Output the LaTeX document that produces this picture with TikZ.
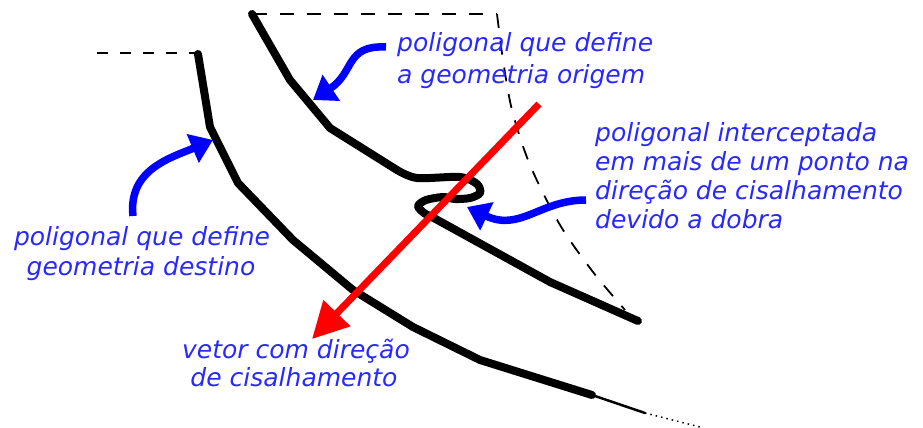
\documentclass[tikz,border=0pt]{standalone}
\usepackage{fontspec}
\setmainfont{DejaVu Sans}
\usetikzlibrary{arrows.meta}
\definecolor{lblue}{RGB}{40,40,255}
\definecolor{arrblue}{RGB}{0,0,255}
\definecolor{vred}{RGB}{255,0,0}
\begin{document}
\begin{tikzpicture}[x=1pt,y=-1pt,
  lbl/.style={font=\fontsize{25}{30}\selectfont\itshape, text=lblue, inner sep=0pt},
  poly/.style={line width=8pt, line join=round, line cap=round},
  guide/.style={line width=1.8pt, dash pattern=on 14pt off 13pt},
  callout/.style={draw=arrblue, line width=7.5pt, -{Triangle[length=22pt,width=30pt]}},
  vecarrow/.style={draw=vred, line width=7pt, -{Triangle[length=36pt,width=36pt]}}
]
\useasboundingbox (0,0) rectangle (923,428);

% guide (dashed) lines
\draw[guide] (253,14) -- (497,14);
\draw[guide] plot[smooth] coordinates {(497,14) (503,60) (512,110) (530,165) (560,225) (593,272) (625,310)};
\draw[line width=1.8pt, dash pattern=on 11pt off 12pt] (97,53) -- (198,53);

% source polygon (origem)
\draw[poly] (252,14) -- (290,80) -- (330,128) -- (397,170)
  plot[smooth] coordinates {(397,170) (417,178) (460,177) (477,184) (480,193) (470,198) (455,199) (443,197) (426,200) (418,206) (424,213) (432,217)}
  -- (550,282) -- (638,321);

% target polygon (destino)
\draw[poly] (198,54) -- (210,127) -- (238,183) -- (293,240) -- (353,290) -- (413,327) -- (480,360) -- (592,395);
\draw[line width=2.5pt, line cap=round] (592,395) -- (645,413);
\draw[line width=1.5pt, dash pattern=on 1.5pt off 4pt] (645,413) -- (700,427);

% red vector
\coordinate (vs) at (539,104);
\coordinate (vt) at (312,339);
\draw[vecarrow] (vs) -- (vt);

% labels
\node[lbl, anchor=base west] (o1) at (397,52) {poligonal que define};
\node[lbl, anchor=base west] (o2) at (397,83) {a geometria origem};

\node[lbl, anchor=base west] (i1) at (595,141) {poligonal interceptada};
\node[lbl, anchor=base west] (i2) at (595,170) {em mais de um ponto na};
\node[lbl, anchor=base west] (i3) at (595,199) {direção de cisalhamento};
\node[lbl, anchor=base west] (i4) at (595,228) {devido a dobra};

\node[lbl, anchor=base] (d1) at (142,245) {poligonal que define};
\node[lbl, anchor=base] (d2) at (141,275) {geometria destino};

\node[lbl, anchor=base] (v1) at (296,358) {vetor com direção};
\node[lbl, anchor=base] (v2) at (294,386) {de cisalhamento};

% blue callout arrows
\coordinate (a1s) at (386,47);
\coordinate (a1t) at (313,100);
\coordinate (a2s) at (133,216);
\coordinate (a2t) at (213,140);
\coordinate (a3s) at (586,200);
\coordinate (a3t) at (467,207);
\draw[callout] (a1s) .. controls (345,45) and (355,72) .. (a1t);
\draw[callout] (a2s) .. controls (128,170) and (170,158) .. (a2t);
\draw[callout] (a3s) .. controls (540,200) and (520,232) .. (a3t);
\end{tikzpicture}
\end{document}
